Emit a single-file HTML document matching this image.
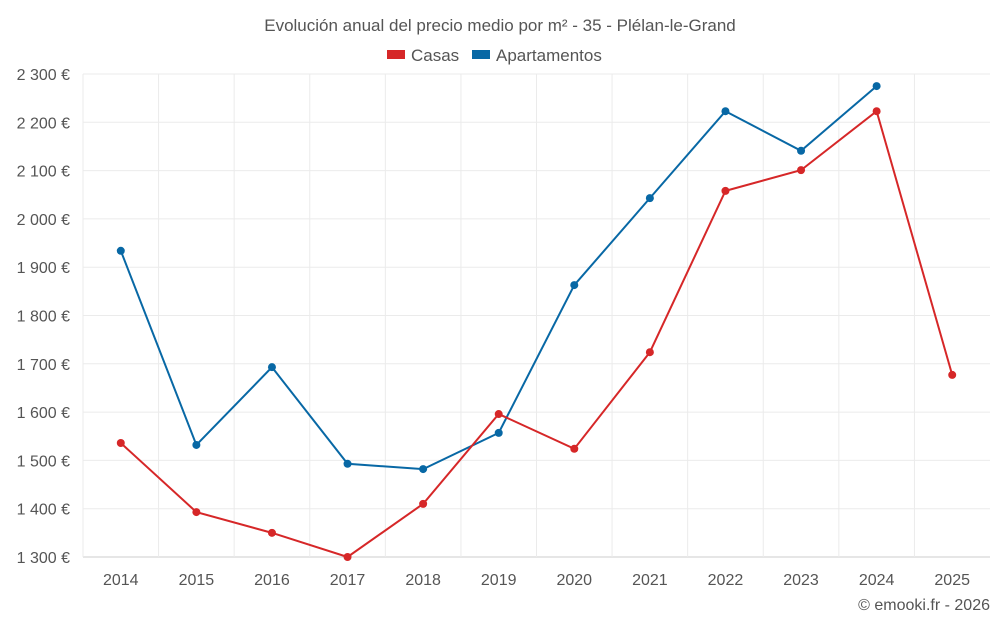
<!DOCTYPE html>
<html><head><meta charset="utf-8"><style>
body{margin:0;background:#fff;font-family:"Liberation Sans",sans-serif;}
svg text{font-family:"Liberation Sans",sans-serif;fill:#555;}
</style></head><body>
<svg id="chart" width="1000" height="625">
<text x="500" y="31" text-anchor="middle" font-size="17">Evolución anual del precio medio por m² - 35 - Plélan-le-Grand</text>
<g>
<g><rect x="387" y="50" width="18" height="9" fill="#d62728"/><text x="411" y="61" font-size="17">Casas</text></g>
<g><rect x="472" y="50" width="18" height="9" fill="#0868a5"/><text x="496" y="61" font-size="17">Apartamentos</text></g>
</g>
<g id="grid"></g><g id="axes"></g><g id="series"></g>
<text x="990" y="610" text-anchor="end" font-size="16">© emooki.fr - 2026</text>
</svg>
<script>
const years=["2014","2015","2016","2017","2018","2019","2020","2021","2022","2023","2024","2025"];
const casas=[1536,1393,1350,1300,1410,1596,1524,1724,2058,2101,2223,1677];
const apartamentos=[1934,1532,1693,1493,1482,1557,1863,2043,2223,2141,2275,null];
const yTicks=[1300,1400,1500,1600,1700,1800,1900,2000,2100,2200,2300];
const NS="http://www.w3.org/2000/svg";
const L=83,R=990,T=74,B=557,ymin=1300,ymax=2300;
const step=(R-L)/years.length;
const x=i=>L+step*(i+0.5);
const y=v=>B-(v-ymin)/(ymax-ymin)*(B-T);
function mk(tag,attrs,parent){const e=document.createElementNS(NS,tag);for(const k in attrs)e.setAttribute(k,attrs[k]);parent.appendChild(e);return e;}
const grid=document.getElementById('grid'),axes=document.getElementById('axes'),series=document.getElementById('series');
yTicks.forEach(t=>{
 const l=mk('line',{x1:L,x2:R,y1:y(t),y2:y(t),stroke:t===ymin?'#ccc':'#ebebeb','stroke-width':1},grid);
 
 
 const s=String(t).replace(/(\d)(?=(\d{3})$)/,'$1 ')+' €';
 const tx=mk('text',{x:70,y:y(t)+6,'text-anchor':'end','font-size':16},axes);tx.textContent=s;
 
 
});
years.forEach((yr,i)=>{
 const l=mk('line',{x1:L+step*i,x2:L+step*i,y1:T,y2:B,stroke:'#ebebeb'},grid);
 
 
 const tx=mk('text',{x:x(i),y:585,'text-anchor':'middle','font-size':16},axes);tx.textContent=yr;
 
 
});
function draw(data,color,name){
 let d='';data.forEach((v,i)=>{if(v==null)return;d+=(d?'L':'M')+x(i)+' '+y(v);});
 const p=mk('path',{d:d,fill:'none',stroke:color,'stroke-width':2},series);
 
 
 data.forEach((v,i)=>{if(v==null)return;
  const c=mk('circle',{cx:x(i),cy:y(v),r:4,fill:color},series);
  
  
 });
}
draw(apartamentos,'#0868a5','apartamentos');
draw(casas,'#d62728','casas');
</script>
</body></html>
